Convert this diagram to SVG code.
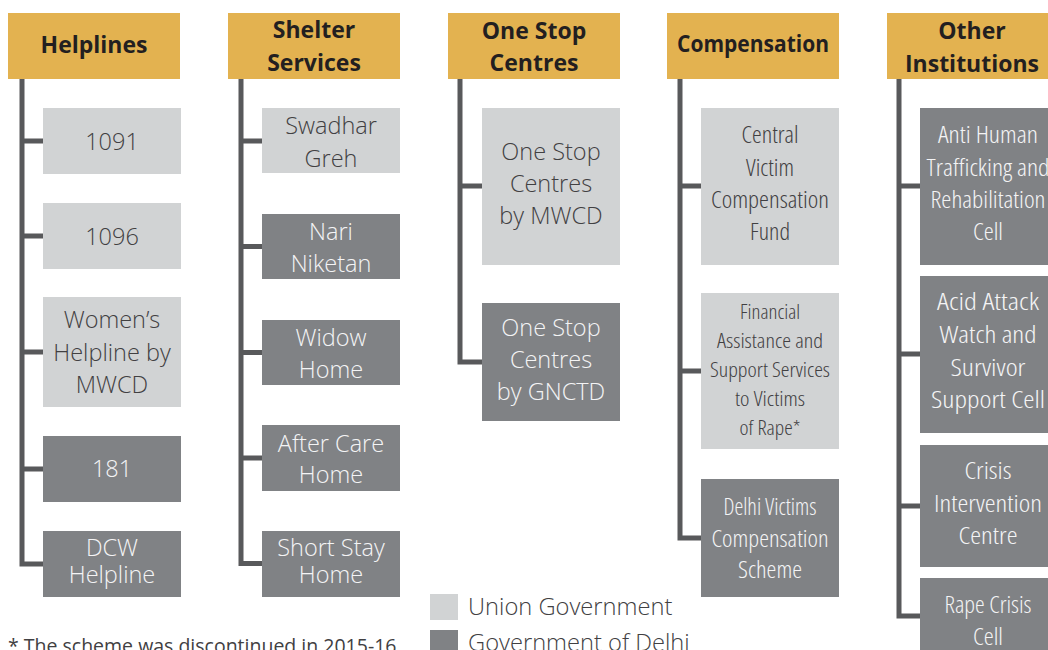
<svg xmlns="http://www.w3.org/2000/svg" width="1048" height="650" viewBox="0 0 1048 650">
<style>
.hdr{fill:#E3B250}
.ht{font-family:"Open Sans","Liberation Sans",sans-serif;font-weight:700;font-size:23px;fill:#231F20;text-anchor:middle}
.lb{fill:#D1D3D4}
.db{fill:#808285}
.t{font-family:"Open Sans","Liberation Sans",sans-serif;font-weight:300;font-size:23.5px;text-anchor:middle}
.tl{fill:#414042}
.td{fill:#F4F4F5}
.c{font-stretch:condensed}
.s{font-size:19.5px}
.con{fill:none;stroke:#58595B;stroke-width:5;stroke-linejoin:miter}
.lg{font-family:"Open Sans","Liberation Sans",sans-serif;font-weight:300;font-size:23.7px;fill:#414042}
.fn{font-family:"Open Sans","Liberation Sans",sans-serif;font-size:19.5px;fill:#414042}
</style>
<g id="connectors">
<path class="con" d="M22,79 V564 H43 M22,141 H43 M22,236 H43 M22,352 H43 M22,469 H43"/>
<path class="con" d="M241,79 V563.5 H262 M241,141 H262 M241,246.5 H262 M241,352.5 H262 M241,458 H262"/>
<path class="con" d="M460,79 V362 H482 M460,186 H482"/>
<path class="con" d="M680,79 V538 H701 M680,186 H701 M680,371 H701"/>
<path class="con" d="M899,79 V616 H920 M899,186 H920 M899,354 H920 M899,506 H920"/>
</g>
<g id="h-helplines"><rect class="hdr" x="8" y="13" width="172" height="66"/><text class="ht" x="94" y="53">Helplines</text></g>
<g id="h-shelter"><rect class="hdr" x="228" y="13" width="172" height="66"/><text class="ht" x="314" y="38">Shelter</text><text class="ht" x="314" y="71">Services</text></g>
<g id="h-onestop"><rect class="hdr" x="448" y="13" width="172" height="66"/><text class="ht" x="534" y="39">One Stop</text><text class="ht" x="534" y="71">Centres</text></g>
<g id="h-comp"><rect class="hdr" x="667" y="13" width="172" height="66"/><text class="ht" x="753" y="52" textLength="152" lengthAdjust="spacingAndGlyphs">Compensation</text></g>
<g id="h-other"><rect class="hdr" x="887" y="13" width="172" height="66"/><text class="ht" x="972" y="39">Other</text><text class="ht" x="972" y="72">Institutions</text></g>

<g id="n-1091"><rect class="lb" x="43" y="108" width="138" height="66"/><text class="t tl" x="112" y="150">1091</text></g>
<g id="n-1096"><rect class="lb" x="43" y="203" width="138" height="66"/><text class="t tl" x="112" y="245">1096</text></g>
<g id="n-womens"><rect class="lb" x="43" y="297" width="138" height="110"/><text class="t tl" x="112" y="328">Women’s</text><text class="t tl" x="112" y="361">Helpline by</text><text class="t tl" x="112" y="393">MWCD</text></g>
<g id="n-181"><rect class="db" x="43" y="436" width="138" height="66"/><text class="t td" x="112" y="477">181</text></g>
<g id="n-dcw"><rect class="db" x="43" y="531" width="138" height="66"/><text class="t td" x="112" y="556">DCW</text><text class="t td" x="112" y="583">Helpline</text></g>

<g id="n-swadhar"><rect class="lb" x="262" y="108" width="138" height="65"/><text class="t tl" x="331" y="134">Swadhar</text><text class="t tl" x="331" y="167">Greh</text></g>
<g id="n-nari"><rect class="db" x="262" y="214" width="138" height="65"/><text class="t td" x="331" y="240">Nari</text><text class="t td" x="331" y="272">Niketan</text></g>
<g id="n-widow"><rect class="db" x="262" y="320" width="138" height="65"/><text class="t td" x="331" y="346">Widow</text><text class="t td" x="331" y="378">Home</text></g>
<g id="n-aftercare"><rect class="db" x="262" y="425" width="138" height="66"/><text class="t td" x="331" y="452">After Care</text><text class="t td" x="331" y="483">Home</text></g>
<g id="n-shortstay"><rect class="db" x="262" y="531" width="138" height="66"/><text class="t td" x="331" y="556">Short Stay</text><text class="t td" x="331" y="583">Home</text></g>

<g id="n-osc-mwcd"><rect class="lb" x="482" y="108" width="138" height="157"/><text class="t tl" x="551" y="160">One Stop</text><text class="t tl" x="551" y="192">Centres</text><text class="t tl" x="551" y="224">by MWCD</text></g>
<g id="n-osc-gnctd"><rect class="db" x="482" y="303" width="138" height="118"/><text class="t td" x="551" y="336">One Stop</text><text class="t td" x="551" y="368">Centres</text><text class="t td" x="551" y="400">by GNCTD</text></g>

<g id="n-cvcf"><rect class="lb" x="701" y="108" width="138" height="157"/><text class="t tl c" x="770" y="143" textLength="57" lengthAdjust="spacingAndGlyphs">Central</text><text class="t tl c" x="770" y="176" textLength="48" lengthAdjust="spacingAndGlyphs">Victim</text><text class="t tl c" x="770" y="208" textLength="118" lengthAdjust="spacingAndGlyphs">Compensation</text><text class="t tl c" x="770" y="240" textLength="40" lengthAdjust="spacingAndGlyphs">Fund</text></g>
<g id="n-fass"><rect class="lb" x="701" y="293" width="138" height="156"/><text class="t tl c s" x="770" y="319" textLength="60" lengthAdjust="spacingAndGlyphs">Financial</text><text class="t tl c s" x="770" y="348" textLength="106" lengthAdjust="spacingAndGlyphs">Assistance and</text><text class="t tl c s" x="770" y="377" textLength="120" lengthAdjust="spacingAndGlyphs">Support Services</text><text class="t tl c s" x="770" y="406" textLength="70" lengthAdjust="spacingAndGlyphs">to Victims</text><text class="t tl c s" x="770" y="435" textLength="61" lengthAdjust="spacingAndGlyphs">of Rape*</text></g>
<g id="n-dvcs"><rect class="db" x="701" y="479" width="138" height="118"/><text class="t td c" x="770" y="515" textLength="93" lengthAdjust="spacingAndGlyphs">Delhi Victims</text><text class="t td c" x="770" y="547" textLength="117" lengthAdjust="spacingAndGlyphs">Compensation</text><text class="t td c" x="770" y="578" textLength="64" lengthAdjust="spacingAndGlyphs">Scheme</text></g>

<g id="n-ahtrc"><rect class="db" x="920" y="108" width="138" height="157"/><text class="t td c" x="988" y="143" textLength="100" lengthAdjust="spacingAndGlyphs">Anti Human</text><text class="t td c" x="988" y="176" textLength="123" lengthAdjust="spacingAndGlyphs">Trafficking and</text><text class="t td c" x="988" y="208" textLength="115" lengthAdjust="spacingAndGlyphs">Rehabilitation</text><text class="t td c" x="988" y="240" textLength="30" lengthAdjust="spacingAndGlyphs">Cell</text></g>
<g id="n-acid"><rect class="db" x="920" y="276" width="138" height="157"/><text class="t td c" x="988" y="310" textLength="102" lengthAdjust="spacingAndGlyphs">Acid Attack</text><text class="t td c" x="988" y="343" textLength="97" lengthAdjust="spacingAndGlyphs">Watch and</text><text class="t td c" x="988" y="376" textLength="75" lengthAdjust="spacingAndGlyphs">Survivor</text><text class="t td c" x="988" y="408" textLength="114" lengthAdjust="spacingAndGlyphs">Support Cell</text></g>
<g id="n-crisis"><rect class="db" x="920" y="445" width="138" height="122"/><text class="t td c" x="988" y="479" textLength="47" lengthAdjust="spacingAndGlyphs">Crisis</text><text class="t td c" x="988" y="512" textLength="108" lengthAdjust="spacingAndGlyphs">Intervention</text><text class="t td c" x="988" y="544" textLength="59" lengthAdjust="spacingAndGlyphs">Centre</text></g>
<g id="n-rape"><rect class="db" x="920" y="578" width="138" height="90"/><text class="t td c" x="988" y="613" textLength="87" lengthAdjust="spacingAndGlyphs">Rape Crisis</text><text class="t td c" x="988" y="645" textLength="30" lengthAdjust="spacingAndGlyphs">Cell</text></g>

<g id="legend">
<rect class="lb" x="430" y="594" width="28" height="26"/><text class="lg" x="468" y="615">Union Government</text>
<rect class="db" x="430" y="630" width="28" height="26"/><text class="lg" x="468" y="651">Government of Delhi</text>
</g>
<g id="footnote"><text class="fn" x="8" y="653">* The scheme was discontinued in 2015-16</text></g>
</svg>
